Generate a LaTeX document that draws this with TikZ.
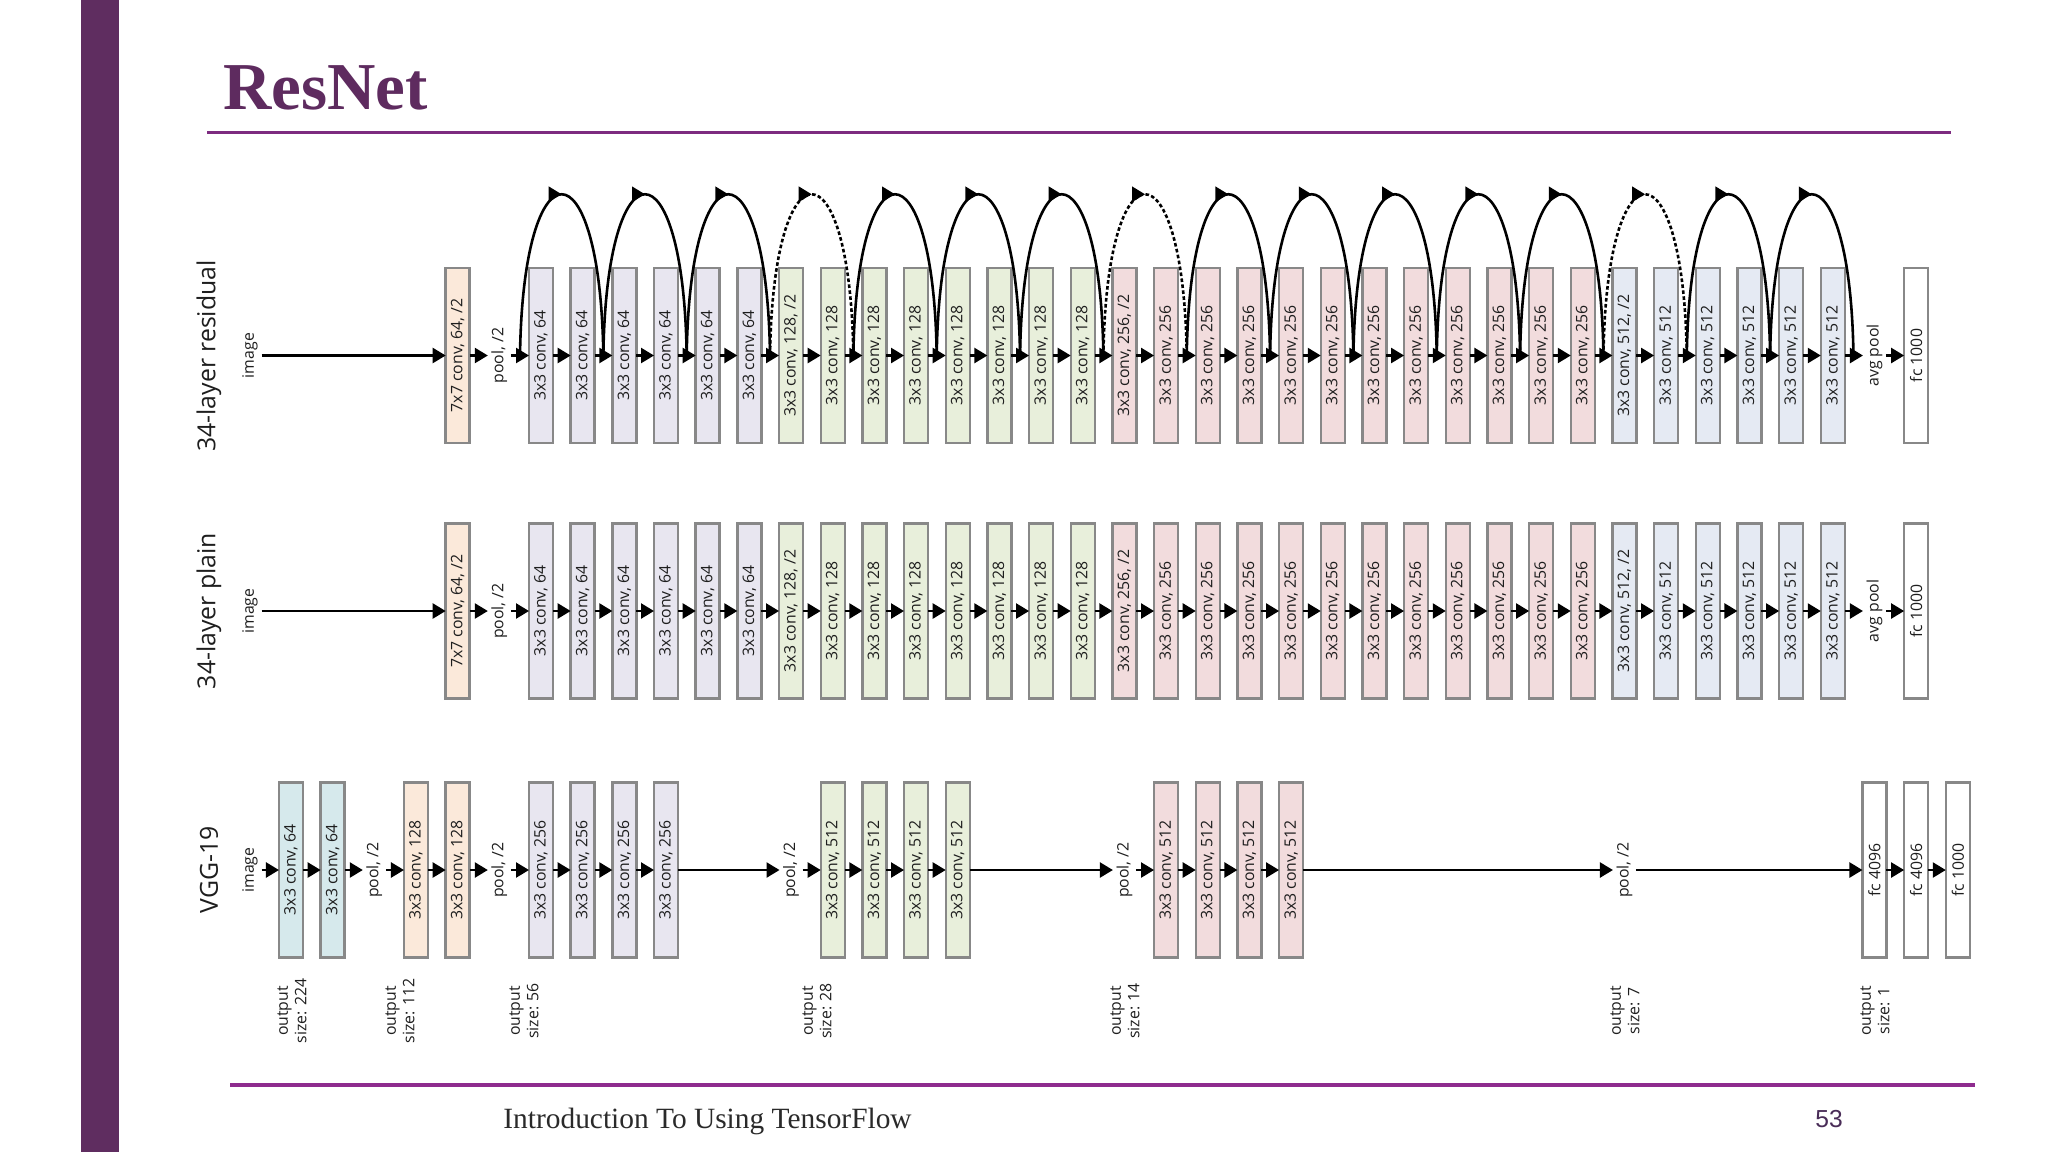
\documentclass[tikz,border=0pt]{standalone}
\usepackage{fontspec}
\setmainfont{Open Sans}
\newfontfamily\tserif{Liberation Serif}
\newfontfamily\lsans{Liberation Sans}
\usetikzlibrary{arrows.meta,decorations.markings}
\definecolor{barpurple}{HTML}{5F2D60}
\definecolor{titlepurple}{HTML}{5E2B5F}
\definecolor{rulepurple}{HTML}{7D2B80}
\definecolor{rulemag}{HTML}{8E2B8E}
\definecolor{boxgray}{HTML}{888888}
\definecolor{cpeach}{HTML}{FBE9DA}
\definecolor{clav}{HTML}{E8E6F0}
\definecolor{cgreen}{HTML}{E8EFDB}
\definecolor{cpink}{HTML}{F2DCDD}
\definecolor{cblue}{HTML}{E5EAF3}
\definecolor{ccyan}{HTML}{D6E9EC}
\definecolor{txt}{HTML}{1E1E1E}
\definecolor{footgray}{HTML}{2A2A2A}
\definecolor{numpurple}{HTML}{4A2D58}
\newcommand\dgfont{\fontsize{7.9}{9.2}\selectfont}
\begin{document}
\begin{tikzpicture}[x=0.5pt,y=-0.5pt,
  convbox/.style={draw=boxgray, line width=1.2pt, rotate=90, minimum width=87.5pt,
    minimum height=12pt, inner sep=0pt, outer sep=0pt, font=\dgfont, text=txt},
  lbl/.style={rotate=90, inner sep=0pt, outer sep=0pt, minimum height=11.5pt,
    font=\dgfont, text=txt},
  rowtitle/.style={rotate=90, inner sep=0pt, font=\fontsize{12.4}{14}\selectfont, text=txt},
  flow/.style={line width=1.2pt, -{Triangle[length=6.5pt,width=7.5pt]}},
  skip/.style={line width=1.3pt, postaction={decorate},
    decoration={markings, mark=at position 0.5 with {\arrow{Triangle[length=6.5pt,width=7.5pt]}}}},
  dotskip/.style={skip, dash pattern=on 1.8pt off 1.2pt}
]
\useasboundingbox (0,0) rectangle (2048,1152);
\fill[white] (0,0) rectangle (2048,1152);
% slide decorations
\fill[barpurple] (81,0) rectangle (119,1152);
\node[anchor=base west, inner sep=0pt, text=titlepurple,
  font=\tserif\bfseries\fontsize{33.5}{40}\selectfont] (title) at (223,109) {ResNet};
\draw[rulepurple, line width=1.5pt] (207,132) -- (1951,132);
\draw[rulemag, line width=2pt] (230,1085) -- (1975,1085);
\node[anchor=base west, inner sep=0pt, text=footgray,
  font=\tserif\fontsize{14.7}{17}\selectfont] (foot) at (503,1128) {Introduction To Using TensorFlow};
\node[anchor=base west, inner sep=0pt, text=numpurple,
  font=\lsans\fontsize{12.3}{14}\selectfont] (pg) at (1815,1127) {53};

% row titles
\node[rowtitle] (t1) at (209,356) {34-layer residual};
\node[rowtitle] (t2) at (209,611) {34-layer plain};
\node[rowtitle] (t3) at (209,870) {VGG-19};

% residual and plain rows
\foreach \r/\y in {r/355.5, p/611} {
  \node[lbl] (\r img) at (250,\y) {image};
  \node[convbox, fill=cpeach] (\r7x7) at ({541-2*41.67},\y) {7x7 conv, 64, /2};
  \node[lbl] (\r pool) at ({541-41.67},\y) {pool, /2};
  \foreach \a/\b/\n/\c/\s in {0/5/64/clav/{}, 6/13/128/cgreen/{, /2}, 14/25/256/cpink/{, /2}, 26/31/512/cblue/{, /2}} {
    \foreach \i in {\a,...,\b} {
      \node[convbox, fill=\c] (\r b\i) at ({541+41.67*\i},\y) {3x3 conv, \n\ifnum\i=\a\s\fi};
    }
  }
  \node[lbl] (\r avg) at ({541+41.67*32},\y) {avg pool};
  \node[convbox, fill=white] (\r fc) at ({541+41.67*33},\y) {fc 1000};
  \draw[flow] (\r img) -- (\r7x7);
  \draw[flow] (\r7x7) -- (\r pool);
  \draw[flow] (\r pool) -- (\r b0);
  \foreach \i [count=\j from 1] in {0,...,30} {
    \draw[flow] (\r b\i) -- (\r b\j);
  }
  \draw[flow] (\r b31) -- (\r avg);
  \draw[flow] (\r avg) -- (\r fc);
}

% shortcut connections
\foreach \k in {0,...,16} {
  \coordinate (rs\k) at ({541+41.67*2*\k-21},355.5);
}
\foreach \k [count=\m from 1] in {0,...,15} {
  \ifnum\k=3 \def\sty{dotskip}\else\ifnum\k=7 \def\sty{dotskip}\else\ifnum\k=13 \def\sty{dotskip}\else\def\sty{skip}\fi\fi\fi
  \draw[\sty] (rs\k) .. controls +(3,-215) and +(-3,-215) .. (rs\m);
}

% VGG-19 row
\def\vy{870}
\node[lbl] (vimg) at (250,\vy) {image};
\node[convbox, fill=ccyan] (v1) at ({541-6*41.67},\vy) {3x3 conv, 64};
\node[convbox, fill=ccyan] (v2) at ({541-5*41.67},\vy) {3x3 conv, 64};
\node[lbl] (vp1) at ({541-4*41.67},\vy) {pool, /2};
\node[convbox, fill=cpeach] (v3) at ({541-3*41.67},\vy) {3x3 conv, 128};
\node[convbox, fill=cpeach] (v4) at ({541-2*41.67},\vy) {3x3 conv, 128};
\node[lbl] (vp2) at ({541-1*41.67},\vy) {pool, /2};
\foreach \i [count=\j from 5] in {0,...,3} {
  \node[convbox, fill=clav] (v\j) at ({541+41.67*\i},\vy) {3x3 conv, 256};
}
\node[lbl] (vp3) at ({541+6*41.67},\vy) {pool, /2};
\foreach \i [count=\j from 9] in {7,...,10} {
  \node[convbox, fill=cgreen] (v\j) at ({541+41.67*\i},\vy) {3x3 conv, 512};
}
\node[lbl] (vp4) at ({541+14*41.67},\vy) {pool, /2};
\foreach \i [count=\j from 13] in {15,...,18} {
  \node[convbox, fill=cpink] (v\j) at ({541+41.67*\i},\vy) {3x3 conv, 512};
}
\node[lbl] (vp5) at ({541+26*41.67},\vy) {pool, /2};
\node[convbox, fill=white] (vf1) at ({541+32*41.67},\vy) {fc 4096};
\node[convbox, fill=white] (vf2) at ({541+33*41.67},\vy) {fc 4096};
\node[convbox, fill=white] (vf3) at ({541+34*41.67},\vy) {fc 1000};
\foreach \a/\b in {vimg/v1, v1/v2, v2/vp1, vp1/v3, v3/v4, v4/vp2, vp2/v5, v5/v6, v6/v7, v7/v8,
  v8/vp3, vp3/v9, v9/v10, v10/v11, v11/v12, v12/vp4, vp4/v13, v13/v14, v14/v15, v15/v16,
  v16/vp5, vp5/vf1, vf1/vf2, vf2/vf3} {
  \draw[flow] (\a) -- (\b);
}

% output size labels
\foreach \x/\s/\nm in {292/224/oa, 400/112/ob, 524/56/oc, 817/28/od, 1125/14/oe, 1625/7/of, 1875/1/og} {
  \node[lbl, align=center] (\nm) at (\x,1011) {output\\size: \s};
}
\end{tikzpicture}
\end{document}
